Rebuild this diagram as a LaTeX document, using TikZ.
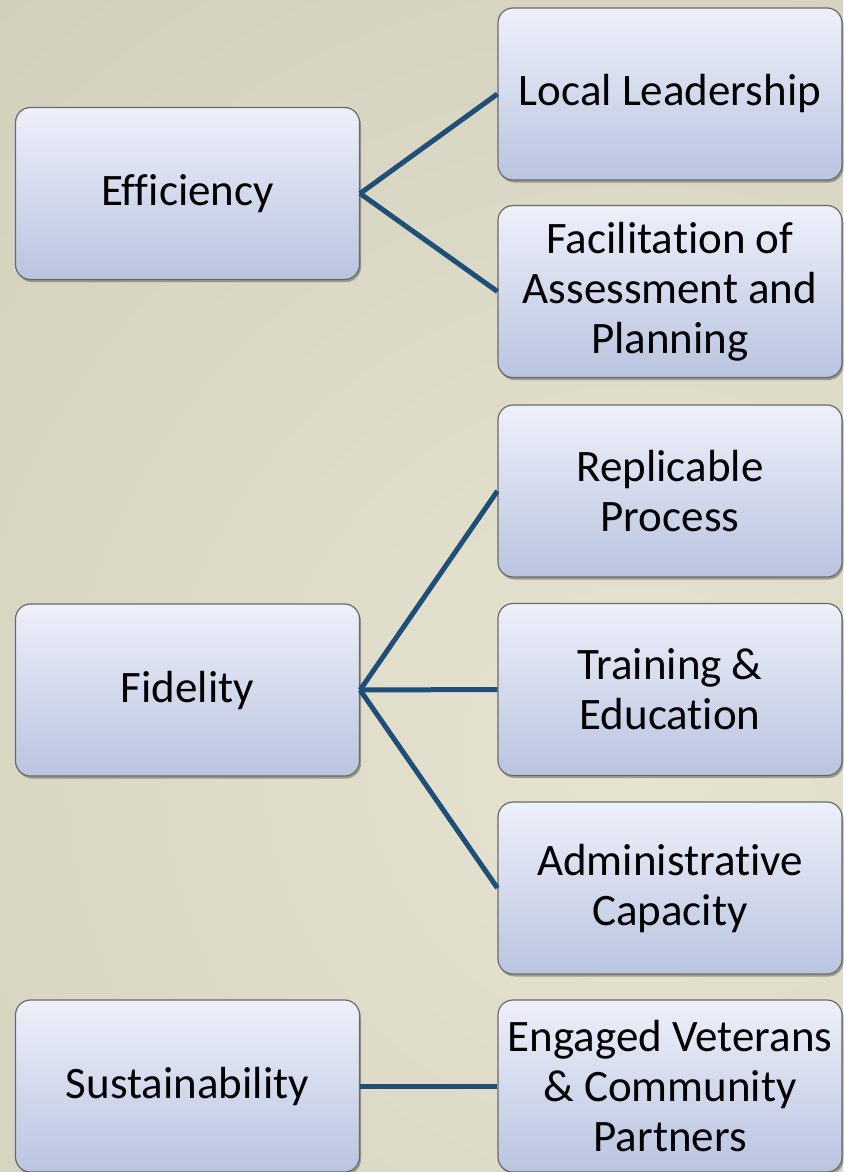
\documentclass[tikz,border=0pt]{standalone}
\usepackage{fontspec}
\setmainfont{Carlito}[Ligatures={NoCommon}]
\usetikzlibrary{shadows}
\definecolor{bgdark}{HTML}{C4C1AF}
\definecolor{bglight}{HTML}{E7E3D1}
\definecolor{boxtop}{HTML}{EEF0FA}
\definecolor{boxbot}{HTML}{B9C4E0}
\definecolor{boxline}{HTML}{6A6A6A}
\definecolor{conn}{HTML}{1F4E79}
\tikzset{
  box/.style={draw=boxline, line width=1.2pt, rounded corners=15pt,
    top color=boxtop, bottom color=boxbot,
    minimum width=344pt, minimum height=172pt, inner sep=0pt, align=center,
    font=\fontsize{45}{50}\selectfont,
    drop shadow={shadow xshift=1.5pt, shadow yshift=-2.5pt, opacity=0.3, fill=black}},
  link/.style={draw=conn, line width=5pt}
}
\begin{document}
\begin{tikzpicture}[x=1pt,y=-1pt]
\useasboundingbox (0,0) rectangle (843,1172);
\begin{scope}
  \clip (0,0) rectangle (843,1172);
  \shade[inner color=bglight, outer color=bgdark] (640,760) circle [radius=1700pt];
\end{scope}
% left column
\node[box] (eff) at (187.5,193.5) {Efficiency};
\node[box] (fid) at (187.5,690) {Fidelity};
\node[box] (sus) at (187.5,1086) {Sustainability};
% right column
\node[box] (ll)  at (670,94)    {Local Leadership};
\node[box] (fac) at (670,291.5) {Facilitation of\\Assessment and\\Planning};
\node[box] (rep) at (670,491)   {Replicable\\Process};
\node[box] (tra) at (670,689.5) {Training \&\\Education};
\node[box] (adm) at (670,888)   {Administrative\\Capacity};
\node[box] (eng) at (670,1086)  {Engaged Veterans\\\& Community\\Partners};
% connectors
\draw[link] (eff.east) -- (ll.west);
\draw[link] (eff.east) -- (fac.west);
\draw[link] (fid.east) -- (rep.west);
\draw[link] (fid.east) -- (tra.west);
\draw[link] (fid.east) -- (adm.west);
\draw[link] (sus.east) -- (eng.west);
\end{tikzpicture}
\end{document}
